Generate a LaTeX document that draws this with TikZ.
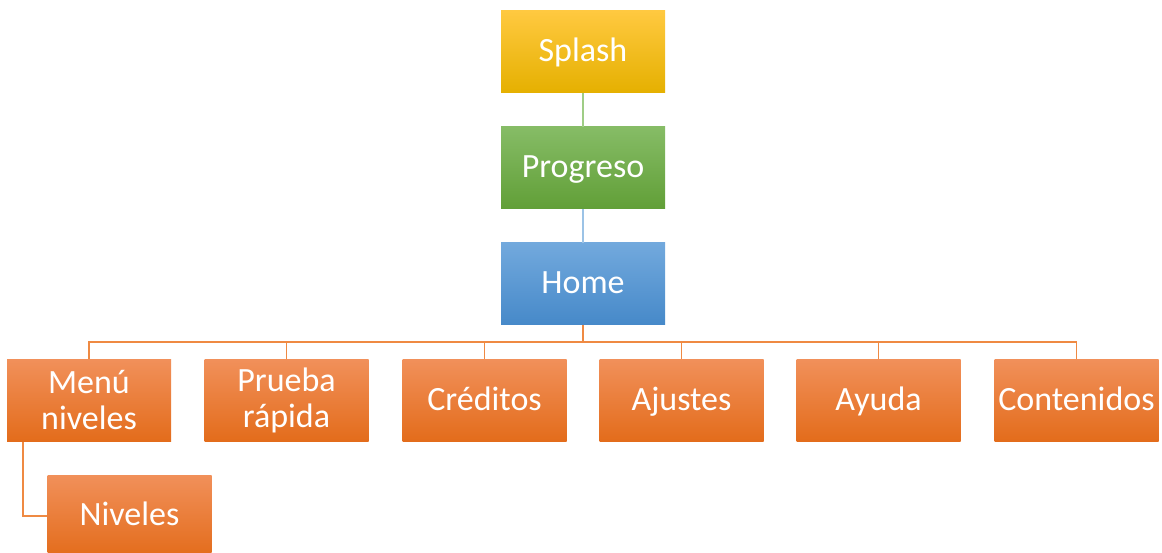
\documentclass[tikz,border=0pt]{standalone}
\usepackage{fontspec}
\setmainfont{Carlito}
\definecolor{ytop}{HTML}{FFC940}
\definecolor{ymid}{HTML}{FFC000}
\definecolor{ybot}{HTML}{E5B000}
\definecolor{gtop}{HTML}{86BC66}
\definecolor{gmid}{HTML}{71AD47}
\definecolor{gbot}{HTML}{619F37}
\definecolor{btop}{HTML}{72A9DD}
\definecolor{bmid}{HTML}{5B9BD5}
\definecolor{bbot}{HTML}{4689C9}
\definecolor{otop}{HTML}{F1905A}
\definecolor{omid}{HTML}{F47E2B}
\definecolor{obot}{HTML}{E36C1B}
\definecolor{lgreen}{HTML}{9FCD86}
\definecolor{lblue}{HTML}{9CC3E6}
\definecolor{lorange}{HTML}{EF8A43}
\tikzset{
  box/.style={minimum width=164pt, minimum height=82pt, inner sep=0pt, draw=none,
    text=white, align=center, font=\fontsize{34}{36}\selectfont},
  one/.style={text height=25pt, text depth=6pt},
  ybox/.style={box, top color=ytop, middle color=ymid, bottom color=ybot},
  gbox/.style={box, top color=gtop, middle color=gmid, bottom color=gbot},
  bbox/.style={box, top color=btop, middle color=bmid, bottom color=bbot},
  obox/.style={box, top color=otop, middle color=omid, bottom color=obot},
  conn/.style={line width=1.2pt}
}
\begin{document}
\begin{tikzpicture}[x=1pt,y=-1pt]
\useasboundingbox (0,0) rectangle (1162,553);
\clip (0,0) rectangle (1162,553);
\node[ybox,one] (splash) at (583,52) {Splash};
\node[gbox,one] (prog) at (583,168) {Progreso};
\node[bbox,one] (home) at (583,284) {Home};
\node[obox] (menu) at (89,400.5) {Menú\\niveles};
\node[obox] (prueba) at (286.5,400.5) {Prueba\\rápida};
\node[obox,one] (cred) at (484.5,400.5) {Créditos};
\node[obox,one] (ajus) at (681.5,400.5) {Ajustes};
\node[obox,one] (ayuda) at (878.5,400.5) {Ayuda};
\node[obox,one] (cont) at (1076.5,400.5) {Contenidos};
\node[obox,one] (niv) at (129.5,516) {Niveles};
\coordinate (bus) at (583,342);
\draw[conn, lgreen] (splash.south) -- (prog.north);
\draw[conn, lblue] (prog.south) -- (home.north);
\draw[conn, lorange] (home.south) -- (bus);
\foreach \c in {menu,prueba,cred,ajus,ayuda,cont}
  \draw[conn, lorange] (bus) -| (\c.north);
\draw[conn, lorange] ([xshift=-66pt]menu.south) |- (niv.west);
\end{tikzpicture}
\end{document}
